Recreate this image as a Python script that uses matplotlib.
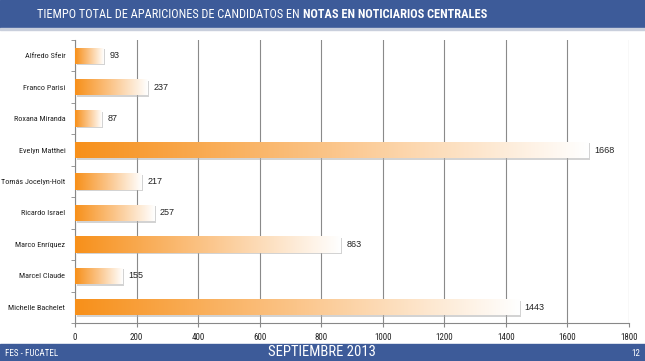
import matplotlib
matplotlib.use("Agg")
import matplotlib.pyplot as plt
import numpy as np
from matplotlib.patches import Rectangle
from matplotlib.colors import LinearSegmentedColormap
from matplotlib import font_manager

candidates = ["Alfredo Sfeir", "Franco Parisi", "Roxana Miranda", "Evelyn Matthei",
              "Tomás Jocelyn-Holt", "Ricardo Israel", "Marco Enríquez", "Marcel Claude",
              "Michelle Bachelet"]
values = [93, 237, 87, 1668, 217, 257, 863, 155, 1443]
xticks = [0, 200, 400, 600, 800, 1000, 1200, 1400, 1600, 1800]

names = {f.name for f in font_manager.fontManager.ttflist}
FAM = []
for cand in ["Liberation Sans Narrow", "Roboto Condensed", "Open Sans Condensed", "Liberation Sans", "Roboto"]:
    if cand in names:
        FAM.append(cand)
FAM.append("DejaVu Sans")
REG = ["Liberation Sans", "DejaVu Sans"]

W, H = 645, 361
fig = plt.figure(figsize=(W/100, H/100), dpi=100)
fig.patch.set_facecolor("white")

blue = "#3d5b99"
fig.add_artist(Rectangle((0, 1-28/H), 1, 28/H, transform=fig.transFigure, color=blue, zorder=0))
fig.add_artist(Rectangle((0, 1-30/H), 1, 2/H, transform=fig.transFigure, color="#c9cfdc", zorder=0))
fig.add_artist(Rectangle((0, 0), 1, 17/H, transform=fig.transFigure, color=blue, zorder=0))

ax = fig.add_axes([75/W, 1-323/H, 554/W, 283/H])
n = len(candidates)

cmap = LinearSegmentedColormap.from_list("og", ["#f7901a", "#fbc58a", "#ffffff"])
grad = np.linspace(0, 1, 256).reshape(1, -1)
bh = 0.52
for i, v in enumerate(values):
    sh = Rectangle((5, i - bh/2 + 0.05), v, bh, facecolor="#b0b0b0", edgecolor="none",
                   alpha=0.55, zorder=2)
    ax.add_patch(sh)
    rect = Rectangle((0, i - bh/2), v, bh, facecolor="none", edgecolor="none", zorder=3)
    ax.add_patch(rect)
    im = ax.imshow(grad, cmap=cmap, aspect="auto", extent=(0, v, i + bh/2, i - bh/2),
                   zorder=3, interpolation="bicubic")
    im.set_clip_path(rect)
    ax.annotate(str(v), (v, i), xytext=(4, 0), textcoords="offset points",
                va="center", ha="left", fontsize=6.5, color="#222222", zorder=4,
                family=REG)
ax.set_xlim(0, 1800)
ax.set_ylim(n-0.5, -0.5)

ax.set_xticks(xticks)
ax.set_xticklabels([str(t) for t in xticks], fontsize=6.5, color="#222222", family=FAM)
ax.set_yticks(range(n))
ax.set_yticklabels(candidates, fontsize=6.5, color="#222222", family=FAM)
ax.set_yticks(np.arange(-0.5, n, 1), minor=True)
ax.tick_params(axis="y", which="major", length=0, pad=7)
ax.tick_params(axis="y", which="minor", length=3, color="#888888")
ax.tick_params(axis="x", length=3, color="#888888", pad=4)
ax.grid(axis="x", color="#8a8a8a", linewidth=0.8, zorder=1)
ax.set_axisbelow(True)
for s in ["top", "right"]:
    ax.spines[s].set_visible(False)
for s in ["left", "bottom"]:
    ax.spines[s].set_color("#888888")
    ax.spines[s].set_linewidth(0.8)

# title with mixed weight, fitted to the reference width
fs = 10.5
t1 = fig.text(39/W, 1-14/H, "TIEMPO TOTAL DE APARICIONES DE CANDIDATOS EN ", color="white",
              fontsize=fs, va="center", ha="left", family=FAM)
t2 = fig.text(0.5, 1-14/H, "NOTAS EN NOTICIARIOS CENTRALES", color="white",
              fontsize=fs, va="center", ha="left", fontweight="bold", family=FAM)
fig.canvas.draw()
r = fig.canvas.get_renderer()
tot = t1.get_window_extent(r).width + t2.get_window_extent(r).width
fs2 = min(fs * 450 / tot, 11.5)
t1.set_fontsize(fs2)
t2.set_fontsize(fs2)

maxw = max(t.get_window_extent(r).width for t in ax.get_yticklabels())
if maxw > 64:
    for t in ax.get_yticklabels():
        t.set_fontsize(6.5 * 64 / maxw)
fig.canvas.draw()
tot2 = t1.get_window_extent(r).width + t2.get_window_extent(r).width
x0 = (39 + 485) / 2 - tot2 / 2
t1.set_x(x0 / W)
fig.canvas.draw()
bb = t1.get_window_extent(r)
t2.set_x(bb.x1 / W)

fig.text(5/W, 8/H, "FES - FUCATEL", color="white", fontsize=6.5, va="center", ha="left", family=FAM)
fig.text(322/W, 9/H, "SEPTIEMBRE 2013", color="white", fontsize=10.5, va="center", ha="center", family=FAM)
fig.text(640/W, 8/H, "12", color="white", fontsize=6.5, va="center", ha="right", family=FAM)

fig.savefig("out.png", dpi=100)
